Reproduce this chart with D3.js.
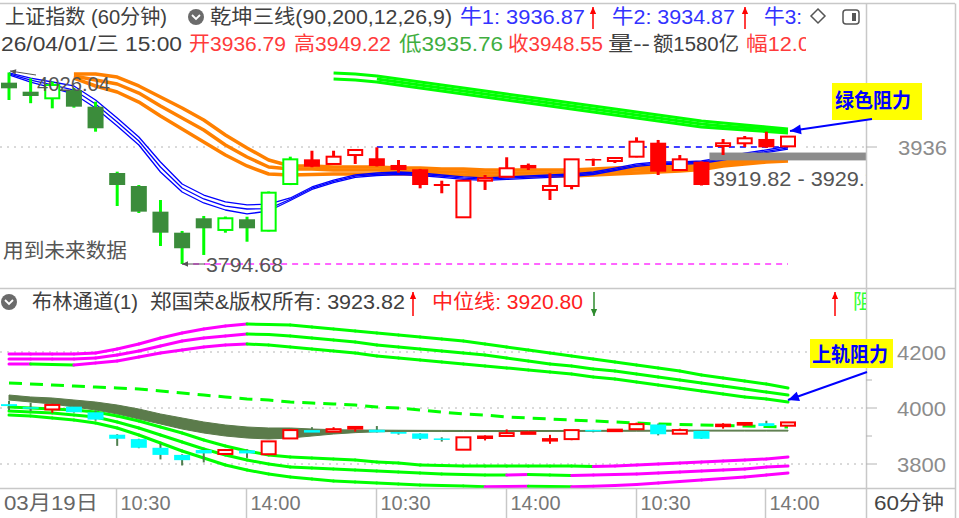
<!DOCTYPE html>
<html>
<head>
<meta charset="utf-8">
<title>上证指数 60分钟</title>
<script src="https://cdn.jsdelivr.net/npm/d3@7"></script>
<style>
body { margin: 0; background: #fff; }
text { font-family: "Liberation Sans", "Noto Sans CJK SC", sans-serif; }
</style>
</head>
<body>
<div id="chart"></div>
<script>
// trading days and the four 60 minute sessions
const days = ["03/19","03/20","03/23","03/24","03/25","03/26","03/27","03/30","03/31","04/01"];
const sessions = ["10:30","11:30","14:00","15:00"];
const bars = days.flatMap(d => sessions.map(s => d + " " + s)).slice(3);

const tickBars = ["03/23 10:30","03/24 14:00","03/26 10:30","03/27 14:00","03/31 10:30","04/01 14:00"];
const tickLabels = ["10:30","14:00","10:30","14:00","10:30","14:00"];

const opens  = [4013.7,4002.8,3994.8,4004.8,3984.7,3904.6,3888.9,3857.9,3832.5,3849.9,3835.8,3848.7,3834.9,3891.3,3921.1,3915.5,3926.3,3922.4,3914.3,3909.1,3891.3,3851.1,3895.3,3900.1,3911.5,3884.1,3888.9,3921.5,3919.1,3924.3,3941.2,3908.2,3918.2,3937.2,3940.5,3945.7,3936.79];
const highs  = [4026.04,4019.0,4015.0,4007.3,3990.7,3906.2,3890.1,3872.0,3834.6,3852.7,3852.0,3851.8,3882.3,3924.3,3931.5,3931.5,3933.6,3935.6,3920.3,3909.5,3895.3,3896.0,3902.2,3923.6,3916.0,3904.2,3921.5,3922.0,3923.5,3947.7,3944.5,3926.3,3918.5,3945.7,3949.3,3954.5,3949.22];
const lows   = [3992.8,3988.9,3982.7,3983.5,3954.5,3864.7,3856.3,3816.4,3794.68,3805.6,3832.5,3821.6,3834.0,3890.0,3911.5,3915.0,3915.5,3912.5,3905.0,3886.1,3880.1,3850.5,3884.1,3899.5,3908.2,3872.0,3884.9,3913.1,3916.7,3923.5,3902.2,3907.5,3889.5,3926.3,3936.0,3935.0,3935.76];
const closes = [4006.9,3997.6,4010.9,3984.7,3958.6,3890.1,3857.9,3832.5,3813.7,3837.8,3849.9,3837.8,3880.8,3921.1,3912.2,3924.3,3932.4,3913.1,3908.2,3890.1,3888.9,3895.3,3898.2,3910.3,3913.1,3888.9,3921.1,3920.3,3922.7,3942.4,3906.2,3921.1,3890.1,3940.5,3946.5,3935.6,3948.55];
const bearBars = 14; // first bars drawn in the green scheme

// 乾坤三线: orange lines from bar 3, green lines from bar 15 / 17, blue lines from bar 0
const orangeA = [4024.2,4024.2,4020.5,4009.7,3996.4,3983.1,3968.6,3950.5,3934.8,3920.3,3913.1,3913.1,3911.8,3911.8,3911.8,3910.6,3910.6,3909.4,3909.4,3908.2,3908.2,3908.2,3908.2,3908.2,3909.4,3910.6,3911.8,3913.1,3914.3,3915.5,3917.9,3920.3,3922.7,3923.9];
const orangeB = [4021.8,4016.9,4012.1,4001.2,3985.5,3971.0,3956.5,3938.4,3923.9,3911.8,3909.4,3909.5,3908.2,3908.2,3908.2,3907.0,3907.0,3905.8,3905.8,3904.6,3904.6,3904.6,3904.6,3904.6,3905.8,3907.0,3908.2,3909.5,3910.7,3912.2,3915.5,3917.9,3920.3,3921.5];
const orangeC = [4019.3,4009.7,4002.4,3990.3,3973.4,3957.7,3942.0,3926.3,3913.1,3903.4,3902.2,3902.8,3903.4,3903.4,3903.4,3903.4,3903.4,3902.2,3902.2,3901.0,3901.0,3901.0,3901.0,3901.0,3902.2,3903.4,3904.6,3905.9,3907.1,3908.8,3913.1,3915.5,3917.9,3919.1];
const greenA = [4025.4,4024.2,4021.8,4018.1,4014.5,4010.9,4007.3,4003.6,4000.0,3996.4,3992.8,3989.1,3985.5,3981.9,3978.3,3974.6,3971.0,3967.4,3965.0,3962.6,3960.2,3957.7];
const greenB = [4018.2,4014.5,4010.9,4007.3,4003.7,4000.0,3996.4,3992.8,3989.2,3985.5,3981.9,3978.3,3974.7,3971.0,3967.4,3963.8,3961.4,3959.6,3957.8,3955.3];
const greenC = [4018.2,4017.0,4014.6,4010.9,4007.3,4003.7,4000.1,3996.4,3992.8,3989.2,3985.6,3981.9,3978.3,3974.7,3971.1,3967.4,3963.8,3960.2,3958.4,3956.6,3954.8,3952.9];
const blueA = [4025.4,4019.3,4014.5,4009.7,3992.8,3971.0,3948.1,3917.9,3891.3,3878.0,3869.6,3866.0,3867.0,3874.4,3887.7,3896.1,3902.2,3904.6,3905.8,3904.6,3902.2,3899.8,3898.6,3899.8,3901.0,3902.2,3903.4,3905.8,3910.6,3915.5,3917.9,3917.9,3919.1,3923.5,3928.5,3932.5,3936.9];
const blueB = [4024.2,4016.9,4010.9,4004.8,3987.9,3966.2,3943.2,3911.8,3886.5,3873.2,3864.7,3861.1,3861.5,3872.9,3886.2,3894.6,3900.7,3903.1,3904.3,3903.1,3900.7,3898.3,3897.1,3898.3,3899.5,3900.7,3901.9,3904.3,3909.1,3914.0,3916.4,3916.4,3917.6,3921.8,3926.7,3930.7,3934.9];
const blueC = [4023.0,4014.5,4007.3,4000.0,3983.1,3961.4,3938.4,3905.8,3881.7,3868.4,3859.9,3855.1,3858.7,3871.4,3884.7,3893.1,3899.2,3901.6,3902.8,3901.6,3899.2,3896.8,3895.6,3896.8,3898.0,3899.2,3900.4,3902.8,3907.6,3912.5,3914.9,3914.9,3916.1,3920.3,3925.2,3929.2,3933.4];
const lowMark = 3794.68, highMark = 4026.04, gridMain = 3936;
const zoneLow = 3919.82, zoneHigh = 3929.3;

// 布林通道 pane
const upper1 = [4192.9,4192.9,4192.9,4192.9,4196.4,4210.7,4228.6,4250.0,4267.9,4282.1,4292.9,4300.0,4298.2,4296.4,4289.3,4282.1,4275.0,4267.9,4260.7,4253.6,4246.4,4239.3,4228.6,4217.9,4207.1,4196.4,4185.7,4175.0,4164.3,4153.6,4142.9,4132.1,4117.9,4107.1,4096.4,4085.7,4071.4];
const upper2 = [4175.0,4175.0,4175.0,4175.0,4178.6,4189.3,4203.6,4221.4,4239.3,4250.0,4257.1,4264.3,4262.5,4257.1,4250.0,4242.9,4235.7,4225.0,4217.9,4210.7,4203.6,4196.4,4189.3,4178.6,4167.9,4157.1,4150.0,4139.3,4132.1,4121.4,4110.7,4100.0,4089.3,4078.6,4067.9,4057.1,4046.4];
const upper3 = [4157.1,4157.1,4155.4,4153.6,4160.7,4167.9,4182.1,4196.4,4207.1,4217.9,4225.0,4228.6,4225.0,4217.9,4210.7,4203.6,4196.4,4185.7,4178.6,4171.4,4164.3,4157.1,4150.0,4142.9,4135.7,4128.6,4121.4,4110.7,4103.6,4092.9,4082.1,4071.4,4060.7,4050.0,4039.3,4032.1,4021.4];
const midTop = [4046.4,4039.3,4035.7,4028.6,4021.4,4010.7,3996.4,3978.6,3964.3,3950.0,3939.3,3932.1,3928.6,3928.6,3925.0,3922.5,3921.5,3921.0,3920.5,3920.2,3920.0,3919.8,3919.6,3919.5,3919.5,3919.6,3919.8,3920.0,3920.2,3920.4,3920.6,3920.7,3920.8,3920.8,3920.8,3920.8,3920.8];
const midBot = [4028.6,4021.4,4014.3,4003.6,3992.9,3978.6,3960.7,3942.9,3925.0,3910.7,3900.0,3892.9,3889.3,3892.9,3900.0,3907.1,3912.0,3915.0,3916.5,3916.5,3916.3,3916.1,3916.0,3916.0,3916.1,3916.3,3916.5,3916.7,3916.9,3917.1,3917.3,3917.4,3917.5,3917.5,3917.5,3917.5,3917.5];
const lower1 = [4003.6,4000.0,3996.4,3992.9,3985.7,3971.4,3953.6,3932.1,3910.7,3885.7,3864.3,3846.4,3832.1,3825.0,3821.4,3817.9,3814.3,3807.1,3803.6,3796.4,3794.6,3792.9,3792.9,3792.9,3792.9,3792.9,3792.9,3791.1,3792.9,3796.4,3800.0,3803.6,3807.1,3810.7,3814.3,3817.9,3825.0];
const lower2 = [3989.3,3985.7,3982.1,3975.0,3967.9,3950.0,3928.6,3903.6,3878.6,3853.6,3832.1,3814.3,3800.0,3789.3,3785.7,3782.1,3778.6,3775.0,3771.4,3767.9,3764.3,3762.5,3760.7,3760.7,3762.5,3760.7,3758.9,3760.7,3762.5,3764.3,3767.9,3771.4,3775.0,3778.6,3782.1,3789.3,3792.9];
const lower3 = [3975.0,3971.4,3964.3,3957.1,3946.4,3928.6,3903.6,3875.0,3846.4,3821.4,3796.4,3778.6,3764.3,3753.6,3746.4,3739.3,3735.7,3732.1,3728.6,3725.0,3723.2,3721.4,3718.6,3719.6,3720.7,3719.6,3718.6,3720.4,3723.2,3726.8,3732.1,3737.5,3742.9,3748.2,3753.6,3760.7,3767.9];
const dashLine = [4089.3,4085.7,4082.1,4078.6,4075.0,4071.4,4067.9,4060.7,4053.6,4046.4,4039.3,4032.1,4028.6,4021.4,4017.9,4014.3,4010.7,4003.6,4000.0,3992.9,3985.7,3978.6,3975.0,3967.9,3964.3,3960.7,3957.1,3953.6,3950.0,3946.4,3942.9,3941.1,3939.3,3937.5,3935.7,3933.9,3932.1];
const subTicks = [4200, 4000, 3800];
const subMinor = [4100, 3900];

const W = 959, H = 518, plotW = 866;
const red = "#ff0000", lime = "#00ff00", magenta = "#ff00ff", grey = "#c8c8c8";

const svg = d3.select("#chart").append("svg")
  .attr("width", W).attr("height", H)
  .style("display", "block");

const defs = svg.append("defs");
defs.append("clipPath").attr("id", "clipMain").append("rect")
  .attr("x", 0).attr("y", 58).attr("width", plotW).attr("height", 230);
defs.append("clipPath").attr("id", "clipSub").append("rect")
  .attr("x", 0).attr("y", 316).attr("width", plotW).attr("height", 172);
defs.append("clipPath").attr("id", "clipRow2").append("rect")
  .attr("x", 0).attr("y", 0).attr("width", 806).attr("height", 60);
defs.append("clipPath").attr("id", "clipPane").append("rect")
  .attr("x", 0).attr("y", 0).attr("width", plotW).attr("height", 518);

const x = d3.scalePoint().domain(bars).range([9, 788]);
const yMain = d3.scaleLinear().domain([lowMark, gridMain]).range([264, 147]);
const ySub = d3.scaleLinear().domain([3800, 4200]).range([464, 352]);
const candleW = 16;

function series(g, vals, start, yS, color, width, dash) {
  const gen = d3.line().x((d, i) => x(bars[start + i])).y(d => yS(d));
  return g.append("path")
    .attr("d", gen(vals))
    .attr("fill", "none")
    .attr("stroke", color)
    .attr("stroke-width", width)
    .attr("stroke-dasharray", dash || null)
    .attr("stroke-linejoin", "round");
}

// magenta while rising, green while falling
function trendSeries(g, vals, yS) {
  let col = magenta;
  for (let i = 1; i < vals.length; i++) {
    if (vals[i] > vals[i - 1]) col = magenta;
    else if (vals[i] < vals[i - 1]) col = lime;
    g.append("line")
      .attr("x1", x(bars[i - 1])).attr("y1", yS(vals[i - 1]))
      .attr("x2", x(bars[i])).attr("y2", yS(vals[i]))
      .attr("stroke", col).attr("stroke-width", 3)
      .attr("stroke-linecap", "round");
  }
}

function arrow(g, x1, y1, x2, y2, color, width, head) {
  g.append("line").attr("x1", x1).attr("y1", y1).attr("x2", x2).attr("y2", y2)
    .attr("stroke", color).attr("stroke-width", width);
  const a = Math.atan2(y2 - y1, x2 - x1), hw = head * 0.45;
  const bx = x2 - head * Math.cos(a), by = y2 - head * Math.sin(a);
  g.append("path")
    .attr("d", `M${x2},${y2}L${bx + hw * Math.sin(a)},${by - hw * Math.cos(a)}L${bx - hw * Math.sin(a)},${by + hw * Math.cos(a)}Z`)
    .attr("fill", color);
}

function label(g, str, x0, cy, color, size, len, weight) {
  const t = g.append("text")
    .attr("x", x0).attr("y", cy)
    .attr("dominant-baseline", "central")
    .attr("fill", color)
    .style("font-size", size + "px")
    .style("font-weight", weight || "normal")
    .text(str);
  if (len) t.attr("textLength", len).attr("lengthAdjust", "spacingAndGlyphs");
  return t;
}

function drawCandles(g, yS, styleOf, wickW) {
  const idx = d3.range(bars.length);
  g.selectAll("wick")
    .data(idx)
    .join("line")
      .attr("x1", i => x(bars[i])).attr("x2", i => x(bars[i]))
      .attr("y1", i => yS(highs[i])).attr("y2", i => yS(lows[i]))
      .attr("stroke", i => styleOf(i).wick)
      .attr("stroke-width", wickW);
  g.selectAll("body")
    .data(idx)
    .join("rect")
      .attr("x", i => x(bars[i]) - (styleOf(i).hollow ? candleW / 2 - 1 : candleW / 2))
      .attr("width", i => styleOf(i).hollow ? candleW - 2 : candleW)
      .attr("y", i => yS(Math.max(opens[i], closes[i])))
      .attr("height", i => Math.max(yS(Math.min(opens[i], closes[i])) - yS(Math.max(opens[i], closes[i])), 1.5))
      .attr("fill", i => styleOf(i).fill)
      .attr("stroke", i => styleOf(i).hollow ? styleOf(i).wick : "none")
      .attr("stroke-width", 2);
}

// ---------- main pane ----------
const gMain = svg.append("g").attr("clip-path", "url(#clipMain)");

gMain.append("line")
  .attr("x1", 0).attr("x2", x(bars[17]))
  .attr("y1", yMain(gridMain)).attr("y2", yMain(gridMain))
  .attr("stroke", "#b4b4b4").attr("stroke-dasharray", "2,5");
gMain.append("line")
  .attr("x1", x(bars[36]) + 18).attr("x2", plotW)
  .attr("y1", yMain(gridMain)).attr("y2", yMain(gridMain))
  .attr("stroke", "#b4b4b4").attr("stroke-dasharray", "2,5");
gMain.append("line")
  .attr("x1", x(bars[17])).attr("x2", x(bars[36]))
  .attr("y1", yMain(gridMain)).attr("y2", yMain(gridMain))
  .attr("stroke", "#0000ff").attr("stroke-width", 1.5).attr("stroke-dasharray", "6,5");
gMain.append("line")
  .attr("x1", x(bars[8])).attr("x2", x(bars[36]))
  .attr("y1", yMain(lowMark)).attr("y2", yMain(lowMark))
  .attr("stroke", "#ff33ff").attr("stroke-width", 1.5).attr("stroke-dasharray", "6,5");

series(gMain, greenA, 15, yMain, lime, 3);
series(gMain, greenB, 17, yMain, lime, 3);
series(gMain, greenC, 15, yMain, lime, 3);

series(gMain, orangeA, 3, yMain, "#ff8000", 3.5);
series(gMain, orangeB, 3, yMain, "#ff8000", 3.5);
series(gMain, orangeC, 3, yMain, "#ff8000", 3.5);

series(gMain, blueA, 0, yMain, "#0000ff", 1.3);
series(gMain, blueB, 0, yMain, "#0000ff", 1.3);
series(gMain, blueC, 0, yMain, "#0000ff", 1.3);

gMain.append("rect")
  .attr("x", x(bars[32]) + 8).attr("width", plotW - x(bars[32]) - 8)
  .attr("y", yMain(zoneHigh)).attr("height", yMain(zoneLow) - yMain(zoneHigh))
  .attr("fill", "#8c8c8c");

drawCandles(gMain, yMain, i => {
  const up = closes[i] >= opens[i];
  if (i < bearBars) return up ? {hollow: true, fill: "#fff", wick: lime} : {hollow: false, fill: "#3b8c3b", wick: lime};
  return up ? {hollow: true, fill: "#fff", wick: red} : {hollow: false, fill: red, wick: red};
}, 3);

arrow(gMain, 36, 75, 10, 71, "#555", 1, 6);
label(gMain, d3.format(".2f")(highMark), 37, 83, "#555", 21, 73);
arrow(gMain, 205, yMain(lowMark), 182, yMain(lowMark), "#555", 1, 6);
label(gMain, d3.format(".2f")(lowMark), 206, yMain(lowMark), "#555", 21, 77);
label(gMain, "用到未来数据", 3, 251, "#555", 20, 124);
label(gMain, `${zoneLow} - ${zoneHigh.toFixed(2)}`, 713, 178, "#555", 21, 176);

// ---------- sub pane ----------
const gSub = svg.append("g").attr("clip-path", "url(#clipSub)");

gSub.selectAll("grid")
  .data(subTicks)
  .join("line")
    .attr("x1", 0).attr("x2", plotW)
    .attr("y1", d => ySub(d)).attr("y2", d => ySub(d))
    .attr("stroke", "#b4b4b4").attr("stroke-dasharray", "2,5");

series(gSub, dashLine, 0, ySub, lime, 3, "13,8");
trendSeries(gSub, upper1, ySub);
trendSeries(gSub, upper2, ySub);
trendSeries(gSub, upper3, ySub);

const mid = d3.area()
  .x((d, i) => x(bars[i]))
  .y0((d, i) => ySub(midBot[i]))
  .y1(d => ySub(d));
gSub.append("path")
  .attr("d", mid(midTop))
  .attr("fill", "#5b7b4b").attr("stroke", "#5b7b4b").attr("stroke-width", 1);

trendSeries(gSub, lower1, ySub);
trendSeries(gSub, lower2, ySub);
trendSeries(gSub, lower3, ySub);

drawCandles(gSub, ySub, i => closes[i] >= opens[i]
  ? {hollow: true, fill: "#fff", wick: red}
  : {hollow: false, fill: "#00ffff", wick: "#4f7f4f"}, 2);

// ---------- frame, axes ----------
const gFrame = svg.append("g");
[[0, 3.5, 955, 3.5], [0, 288.5, 955, 288.5], [0, 488.5, 955, 488.5],
 [866.5, 3.5, 866.5, 518], [955.5, 3.5, 955.5, 518]].forEach(s => {
  gFrame.append("line").attr("x1", s[0]).attr("y1", s[1]).attr("x2", s[2]).attr("y2", s[3])
    .attr("stroke", grey).attr("stroke-width", 1.5);
});

// right axes
gFrame.append("line")
  .attr("x1", plotW).attr("x2", 877)
  .attr("y1", yMain(gridMain)).attr("y2", yMain(gridMain))
  .attr("stroke", "#b4b4b4");
label(gFrame, String(gridMain), 898, yMain(gridMain), "#8c8c8c", 21, 49);

gFrame.selectAll("subTick")
  .data(subTicks)
  .join("line")
    .attr("x1", plotW).attr("x2", 877)
    .attr("y1", d => ySub(d)).attr("y2", d => ySub(d))
    .attr("stroke", "#b4b4b4");
gFrame.selectAll("subMinor")
  .data(subMinor)
  .join("line")
    .attr("x1", plotW).attr("x2", 872)
    .attr("y1", d => ySub(d)).attr("y2", d => ySub(d))
    .attr("stroke", "#b4b4b4");
subTicks.forEach(v => label(gFrame, String(v), 897, ySub(v), "#8c8c8c", 21, 49));

// time axis
label(gFrame, "03月19日", 4, 503, "#666", 20, 94);
tickBars.forEach((b, i) => {
  const tx = Math.round(x(b)) - 0.5;
  gFrame.append("line").attr("x1", tx).attr("x2", tx).attr("y1", 488).attr("y2", 518)
    .attr("stroke", grey).attr("stroke-width", 1.5);
  label(gFrame, tickLabels[i], tx + 4, 503, "#777", 20, 50);
});
label(gFrame, "60分钟", 874, 503, "#444", 20, 70);

// ---------- header rows ----------
const gHead = svg.append("g");
const dark = "#404040", blue = "#3333ff", hRed = "#ff3b3b";

function chevronIcon(g, cx, cy) {
  g.append("circle").attr("cx", cx).attr("cy", cy).attr("r", 8).attr("fill", "#6b6b6b");
  g.append("path").attr("d", `M${cx - 4},${cy - 2}L${cx},${cy + 2}L${cx + 4},${cy - 2}`)
    .attr("fill", "none").attr("stroke", "#fff").attr("stroke-width", 1.8);
}

label(gHead, "上证指数 (60分钟)", 5, 17, dark, 20, 162);
chevronIcon(gHead, 196, 17);
label(gHead, "乾坤三线(90,200,12,26,9)", 210, 17, dark, 20, 242);
label(gHead, "牛1: 3936.87", 460, 17, blue, 20, 125);
arrow(gHead, 593, 29, 593, 7, red, 1.5, 7);
label(gHead, "牛2: 3934.87", 612, 17, blue, 20, 123);
arrow(gHead, 745, 29, 745, 7, red, 1.5, 7);
label(gHead, "牛3:", 764, 17, blue, 20, 38);
gHead.append("path").attr("d", "M818,9L825,16L818,23L811,16Z")
  .attr("fill", "none").attr("stroke", "#555").attr("stroke-width", 1.5);
gHead.append("rect").attr("x", 843).attr("y", 10).attr("width", 16).attr("height", 14).attr("rx", 3)
  .attr("fill", "none").attr("stroke", "#555").attr("stroke-width", 1.5);
gHead.append("rect").attr("x", 852).attr("y", 13).attr("width", 4).attr("height", 8).attr("fill", "#555");

const gRow2 = gHead.append("g").attr("clip-path", "url(#clipRow2)");
label(gRow2, "26/04/01/三 15:00", 1, 44, dark, 20, 181);
label(gRow2, "开3936.79", 189, 44, hRed, 20, 97);
label(gRow2, "高3949.22", 294, 44, hRed, 20, 97);
label(gRow2, "低3935.76", 399, 44, "#3fae3f", 20, 104);
label(gRow2, "收3948.55", 508, 44, hRed, 20, 95);
label(gRow2, "量--", 608, 44, dark, 20, 42);
label(gRow2, "额1580亿", 653, 44, dark, 20, 86);
label(gRow2, "幅12.0", 746, 44, hRed, 20, 64);

// sub pane header
const gSubHead = svg.append("g").attr("clip-path", "url(#clipPane)");
chevronIcon(gSubHead, 9, 302);
label(gSubHead, "布林通道(1)", 32, 302, dark, 20, 106);
label(gSubHead, "郑国荣&版权所有: 3923.82", 150, 302, dark, 20, 255);
arrow(gSubHead, 413, 316, 413, 292, red, 1.5, 7);
label(gSubHead, "中位线: 3920.80", 432, 302, "#ff2020", 20, 151);
arrow(gSubHead, 594, 292, 594, 316, "#2e8b2e", 1.5, 7);
arrow(gSubHead, 835, 316, 835, 292, red, 1.5, 7);
label(gSubHead, "阻力", 853, 302, "#33ff33", 20);

// ---------- annotations ----------
const gNote = svg.append("g");
gNote.append("rect").attr("x", 832).attr("y", 83).attr("width", 90).attr("height", 37).attr("fill", "#ffff00");
label(gNote, "绿色阻力", 835, 101, "#0000ff", 20, 76, "bold");
arrow(gNote, 872, 119, 790, 131, "#0000ff", 2, 11);

gNote.append("rect").attr("x", 810).attr("y", 339).attr("width", 83).attr("height", 29).attr("fill", "#ffff00");
label(gNote, "上轨阻力", 812, 355, "#0000ff", 20, 76, "bold");
arrow(gNote, 867, 372, 788, 400, "#0000ff", 2, 11);
</script>
</body>
</html>
